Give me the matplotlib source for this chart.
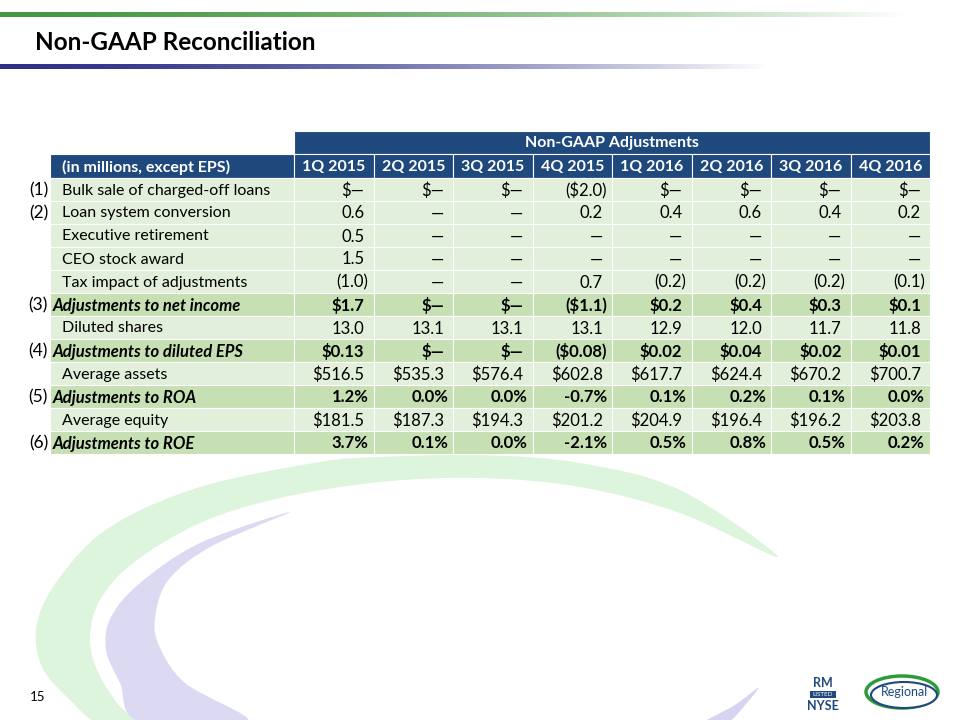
import numpy as np
import matplotlib.pyplot as plt
from matplotlib.patches import Rectangle, PathPatch, Ellipse
from matplotlib.path import Path

# table data
quarters = ['1Q 2015', '2Q 2015', '3Q 2015', '4Q 2015', '1Q 2016', '2Q 2016', '3Q 2016', '4Q 2016']
row_labels = ['Bulk sale of charged-off loans', 'Loan system conversion', 'Executive retirement',
              'CEO stock award', 'Tax impact of adjustments', 'Adjustments to net income',
              'Diluted shares', 'Adjustments to diluted EPS', 'Average assets',
              'Adjustments to ROA', 'Average equity', 'Adjustments to ROE']
row_notes = ['(1)', '(2)', '', '', '', '(3)', '', '(4)', '', '(5)', '', '(6)']
bold_rows = [5, 7, 9, 11]

bulk_sale = ['$\u2014', '$\u2014', '$\u2014', '($2.0)', '$\u2014', '$\u2014', '$\u2014', '$\u2014']
loan_system = ['0.6', '\u2014', '\u2014', '0.2', '0.4', '0.6', '0.4', '0.2']
exec_retire = ['0.5'] + ['\u2014'] * 7
ceo_award = ['1.5'] + ['\u2014'] * 7
tax_impact = ['(1.0)', '\u2014', '\u2014', '0.7', '(0.2)', '(0.2)', '(0.2)', '(0.1)']
adj_net_income = ['$1.7', '$\u2014', '$\u2014', '($1.1)', '$0.2', '$0.4', '$0.3', '$0.1']
diluted_shares = ['13.0', '13.1', '13.1', '13.1', '12.9', '12.0', '11.7', '11.8']
adj_eps = ['$0.13', '$\u2014', '$\u2014', '($0.08)', '$0.02', '$0.04', '$0.02', '$0.01']
avg_assets = ['$516.5', '$535.3', '$576.4', '$602.8', '$617.7', '$624.4', '$670.2', '$700.7']
adj_roa = ['1.2%', '0.0%', '0.0%', '-0.7%', '0.1%', '0.2%', '0.1%', '0.0%']
avg_equity = ['$181.5', '$187.3', '$194.3', '$201.2', '$204.9', '$196.4', '$196.2', '$203.8']
adj_roe = ['3.7%', '0.1%', '0.0%', '-2.1%', '0.5%', '0.8%', '0.5%', '0.2%']

values = [bulk_sale, loan_system, exec_retire, ceo_award, tax_impact, adj_net_income,
          diluted_shares, adj_eps, avg_assets, adj_roa, avg_equity, adj_roe]

# colours
navy = '#1f497d'
light_green = '#e2efda'
mid_green = '#c6e0b4'
font = ['Lato', 'DejaVu Sans']

fig = plt.figure(figsize=(9.6, 7.2), dpi=100)
ax = fig.add_axes([0, 0, 1, 1])
ax.set_xlim(0, 960)
ax.set_ylim(720, 0)
ax.axis('off')

# top gradient rules
def gradient_rule(y0, y1, x_end, rgb):
    alpha = np.clip(1 - np.linspace(0, 1, 400) ** 1.6, 0, 1)
    img = np.zeros((1, 400, 4))
    img[..., :3] = rgb
    img[0, :, 3] = alpha
    ax.imshow(img, extent=(0, x_end, y1, y0), aspect='auto', zorder=1)

gradient_rule(12, 17, 910, (0.27, 0.60, 0.26))
gradient_rule(64, 69, 770, (0.18, 0.19, 0.53))

ax.text(35, 42, 'Non-GAAP Reconciliation', fontsize=17.5, fontweight='bold',
        family=font, va='center', ha='left')

# background swooshes (smooth closed outlines)
def smooth_shape(pts, color):
    pts = np.asarray(pts, float)
    n = len(pts)
    verts = [pts[0]]
    codes = [Path.MOVETO]
    for k in range(n):
        p0, p1, p2, p3 = pts[k - 1], pts[k], pts[(k + 1) % n], pts[(k + 2) % n]
        verts += [p1 + (p2 - p0) / 6, p2 - (p3 - p1) / 6, p2]
        codes += [Path.CURVE4] * 3
    ax.add_patch(PathPatch(Path(verts, codes), fc=color, ec='none', zorder=0))

green_outline = [(97, 722), (73, 703), (42, 667), (37, 623), (60, 577), (110, 527), (200, 487),
                 (320, 462), (380, 457), (480, 455), (580, 463), (680, 490), (778, 557),
                 (680, 513), (580, 487), (480, 478), (380, 482), (280, 498), (200, 523),
                 (133, 563), (100, 600), (90, 637), (97, 670), (117, 703), (135, 722)]
smooth_shape(green_outline, '#ddf5dc')

lav_outline = [(290, 512), (200, 543), (140, 583), (111, 617), (106, 650), (120, 683),
               (140, 722), (248, 722), (185, 683), (158, 643), (156, 612), (170, 578),
               (212, 546)]
smooth_shape(lav_outline, '#dcdaf2')

tail_outline = [(758, 688), (735, 705), (705, 722), (728, 722), (746, 704)]
smooth_shape(tail_outline, '#d6d4f0')

# table geometry
label_x0 = 50
col_x0 = 294
col_w = 79.5
row_h = 23
y_head1 = 131
y_head2 = 154
y_body = 178
n_cols = len(quarters)
table_right = col_x0 + n_cols * col_w

# header rows
ax.add_patch(Rectangle((col_x0, y_head1), table_right - col_x0, y_head2 - y_head1,
                       fc=navy, ec='white', lw=0.8, zorder=2))
ax.text((col_x0 + table_right) / 2, (y_head1 + y_head2) / 2 + 1, 'Non-GAAP Adjustments',
        color='white', fontweight='bold', fontsize=11.5, family=font, ha='center', va='center', zorder=3)
ax.add_patch(Rectangle((label_x0, y_head2), col_x0 - label_x0, y_body - y_head2,
                       fc=navy, ec='white', lw=0.8, zorder=2))
ax.text(62, (y_head2 + y_body) / 2 + 1, '(in millions, except EPS)', color='white',
        fontweight='bold', fontsize=11.5, family=font, ha='left', va='center', zorder=3)
for j, q in enumerate(quarters):
    x = col_x0 + j * col_w
    ax.add_patch(Rectangle((x, y_head2), col_w, y_body - y_head2, fc=navy, ec='white', lw=0.8, zorder=2))
    ax.text(x + col_w / 2, (y_head2 + y_body) / 2 + 1, q, color='white', fontweight='bold',
            fontsize=11.5, family=font, ha='center', va='center', zorder=3)

# body rows
for i, (label, vals) in enumerate(zip(row_labels, values)):
    y = y_body + i * row_h
    yc = y + row_h / 2 + 1
    bold = i in bold_rows
    fc = mid_green if bold else light_green
    ax.add_patch(Rectangle((label_x0, y), col_x0 - label_x0, row_h, fc=fc, ec='white', lw=0.8, zorder=2))
    if bold:
        ax.text(53, yc, label, fontsize=12, family=font, fontweight='bold', fontstyle='italic',
                ha='left', va='center', zorder=3)
    else:
        ax.text(62, yc, label, fontsize=11.5, family=font, ha='left', va='center', zorder=3)
    if row_notes[i]:
        ax.text(48, yc, row_notes[i], fontsize=12.5, family=font, ha='right', va='center', zorder=3)
    for j, v in enumerate(vals):
        x = col_x0 + j * col_w
        ax.add_patch(Rectangle((x, y), col_w, row_h, fc=fc, ec='white', lw=0.8, zorder=2))
        pad = 5 if v.endswith(')') or v.endswith('%') else 9
        ax.text(x + col_w - pad, yc, v, fontsize=12, family=font,
                fontweight='bold' if bold else 'normal', ha='right', va='center', zorder=3)

# page number
ax.text(30, 697, '15', fontsize=9.5, family=font, ha='left', va='center')

# logos
ax.text(823, 683, 'RM', fontsize=9, fontweight='bold', color=navy, family=font, ha='center', va='center')
ax.add_patch(Rectangle((810, 691), 26, 7, fc=navy, ec='none', zorder=3))
ax.text(823, 694.5, 'LISTED', fontsize=4.5, color='white', family=font, ha='center', va='center', zorder=4)
ax.text(823, 706, 'NYSE', fontsize=9, fontweight='bold', color=navy, family=font, ha='center', va='center')
ax.add_patch(Ellipse((902, 692), 72, 32, fc='none', ec='#2e9b3a', lw=2.5, zorder=3))
ax.add_patch(Ellipse((904, 695), 66, 26, fc='white', ec=navy, lw=1.5, zorder=3))
ax.text(905, 692, 'Regional', fontsize=9, color=navy, family=font,
        ha='center', va='center', zorder=4)

fig.savefig('out.png', dpi=100)
